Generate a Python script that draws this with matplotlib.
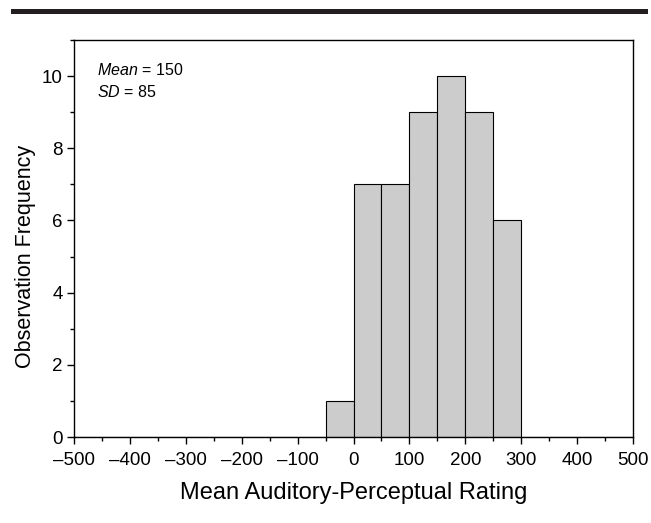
import numpy as np
import matplotlib
matplotlib.use('Agg')
import matplotlib.pyplot as plt
from matplotlib.patches import Rectangle
from matplotlib.ticker import MultipleLocator

plt.rcParams['font.family'] = ['Liberation Sans', 'DejaVu Sans']
plt.rcParams['mathtext.fontset'] = 'custom'
plt.rcParams['mathtext.it'] = 'Liberation Sans:italic'
plt.rcParams['mathtext.rm'] = 'Liberation Sans'

# histogram bins (left edges, width 50) and counts
bin_edges = list(range(-500, 501, 50))
counts = [0, 0, 0, 0, 0, 0, 0, 0, 0, 1, 7, 7, 9, 10, 9, 6, 0, 0, 0, 0]
x_ticks = list(range(-500, 501, 100))
y_ticks = [0, 2, 4, 6, 8, 10]

fig = plt.figure(figsize=(6.51, 5.23), dpi=100)
ax = fig.add_axes([74/651, 1 - 437/523, (633 - 74)/651, (437 - 40)/523])

ax.bar(bin_edges[:-1], counts, width=50, align='edge',
       color='#cccccc', edgecolor='black', linewidth=0.8)

ax.set_xlim(-500, 500)
ax.set_ylim(0, 11)
ax.set_xticks(x_ticks)
ax.set_xticklabels([str(t).replace('-', '\u2013') for t in x_ticks])
ax.set_yticks(y_ticks)
ax.xaxis.set_minor_locator(MultipleLocator(50))
ax.yaxis.set_minor_locator(MultipleLocator(1))
ax.tick_params(which='both', direction='out', top=False, right=False,
               labelsize=13.5, width=1, pad=3)
ax.tick_params(axis='x', pad=6)
ax.tick_params(which='major', length=5)
ax.tick_params(which='minor', length=3)
for s in ax.spines.values():
    s.set_linewidth(1)

ax.set_xlabel('Mean Auditory-Perceptual Rating', fontsize=17, labelpad=9)
ax.set_ylabel('Observation Frequency', fontsize=15.5)
ax.yaxis.set_label_coords(-0.068, 0.456)

ax.text(0.042, 0.925, r'$\it{Mean}$ = 150', transform=ax.transAxes,
        fontsize=11.5, va='center')
ax.text(0.042, 0.87, r'$\it{SD}$ = 85', transform=ax.transAxes,
        fontsize=11.5, va='center')

# heavy rule across the top of the page
fig.add_artist(Rectangle((11/651, 1 - 14/523), (648 - 11)/651, 5/523,
                         transform=fig.transFigure, color='#231f20', lw=0))

fig.savefig('out.png', dpi=100)
